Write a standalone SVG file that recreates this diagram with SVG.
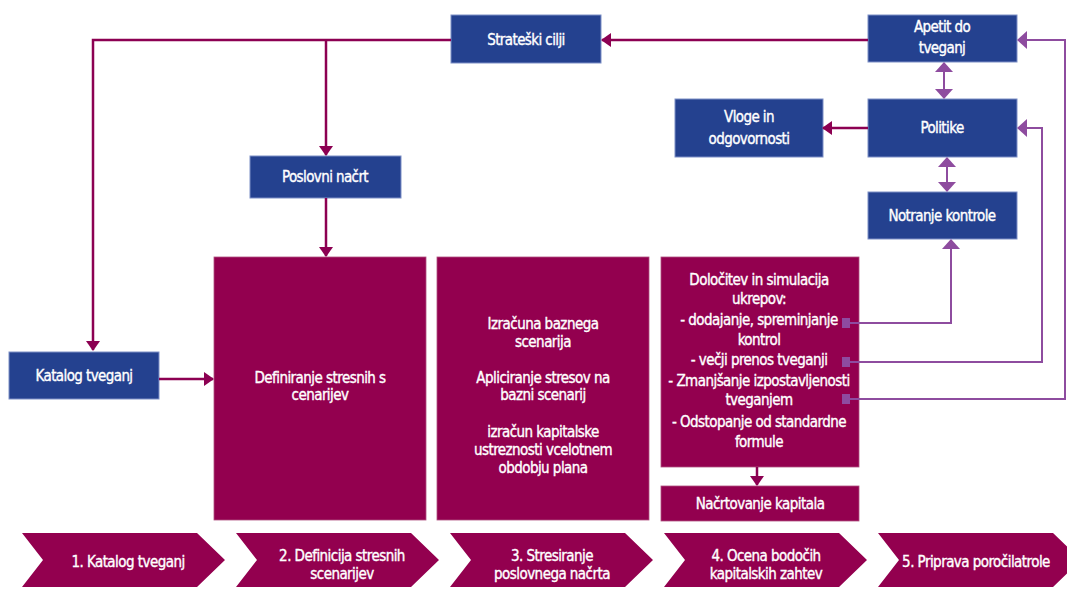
<svg xmlns="http://www.w3.org/2000/svg" width="1067" height="589" viewBox="0 0 1067 589">
  <style>
    .blue { fill: #24418f; stroke: #7d8fc6; stroke-width: 1; }
    .mag { fill: #93004f; stroke: #b0507f; stroke-width: 0.8; }
    .chev { fill: #93004f; }
    .t { font-family: "Liberation Sans Narrow", "DejaVu Sans Condensed", "Liberation Sans", sans-serif; fill: #ffffff; stroke: #ffffff; stroke-width: 0.35px; font-size: 15px; letter-spacing: -0.6px; text-anchor: middle; }
    .ts { font-size: 15px; letter-spacing: -0.55px; }
    .lnm { fill: none; stroke: #8c0052; stroke-width: 2.5; }
    .lnp { fill: none; stroke: #8e4c9f; stroke-width: 2; }
    .sq { fill: #8e4ba0; }
  </style>
  <defs>
    <marker id="arrM" viewBox="0 0 10 14" refX="9" refY="7" markerWidth="10" markerHeight="14" markerUnits="userSpaceOnUse" orient="auto">
      <path d="M0,0 L10,7 L0,14 z" fill="#8c0052"/>
    </marker>
    <marker id="arrP" viewBox="0 0 10 18" refX="9" refY="9" markerWidth="10" markerHeight="18" markerUnits="userSpaceOnUse" orient="auto">
      <path d="M0,0 L10,9 L0,18 z" fill="#8e4c9f"/>
    </marker>
    <marker id="arrPs" viewBox="0 0 10 18" refX="9" refY="9" markerWidth="10" markerHeight="18" markerUnits="userSpaceOnUse" orient="auto-start-reverse">
      <path d="M0,0 L10,9 L0,18 z" fill="#8e4c9f"/>
    </marker>
  </defs>

  <!-- top nodes -->
  <g id="strateski-cilji">
    <rect class="blue" x="451" y="15" width="150" height="48"/>
    <text class="t" x="526" y="45">Strateški cilji</text>
  </g>
  <g id="apetit">
    <rect class="blue" x="868" y="15" width="149" height="47"/>
    <text class="t" x="942" y="32">Apetit do</text>
    <text class="t" x="942" y="53">tveganj</text>
  </g>
  <g id="vloge">
    <rect class="blue" x="675" y="99" width="148" height="58"/>
    <text class="t" x="749" y="122">Vloge in</text>
    <text class="t" x="749" y="144">odgovornosti</text>
  </g>
  <g id="politike">
    <rect class="blue" x="868" y="99" width="149" height="58"/>
    <text class="t" x="942" y="133">Politike</text>
  </g>
  <g id="notranje-kontrole">
    <rect class="blue" x="868" y="192" width="149" height="47"/>
    <text class="t" x="942" y="221">Notranje kontrole</text>
  </g>
  <g id="poslovni-nacrt">
    <rect class="blue" x="250" y="156" width="151" height="42"/>
    <text class="t" x="325" y="182">Poslovni načrt</text>
  </g>
  <g id="katalog-tveganj">
    <rect class="blue" x="9" y="352" width="150" height="47"/>
    <text class="t" x="84" y="381">Katalog tveganj</text>
  </g>

  <!-- process boxes -->
  <g id="definiranje">
    <rect class="mag" x="214" y="257" width="212" height="263"/>
    <text class="t ts" x="320" y="383">Definiranje stresnih s</text>
    <text class="t ts" x="320" y="400">cenarijev</text>
  </g>
  <g id="stresiranje">
    <rect class="mag" x="437" y="257" width="212" height="263"/>
    <text class="t ts" x="543" y="329">Izračuna baznega</text>
    <text class="t ts" x="543" y="347">scenarija</text>
    <text class="t ts" x="543" y="383">Apliciranje stresov na</text>
    <text class="t ts" x="543" y="400">bazni scenarij</text>
    <text class="t ts" x="543" y="437">izračun kapitalske</text>
    <text class="t ts" x="543" y="455">ustreznosti vcelotnem</text>
    <text class="t ts" x="543" y="473">obdobju plana</text>
  </g>
  <g id="dolocitev">
    <rect class="mag" x="661" y="257" width="198" height="210"/>
    <text class="t ts" x="759" y="285">Določitev in simulacija</text>
    <text class="t ts" x="759" y="304">ukrepov:</text>
    <text class="t ts" x="759" y="325">- dodajanje, spreminjanje</text>
    <text class="t ts" x="759" y="345">kontrol</text>
    <text class="t ts" x="759" y="365">- večji prenos tveganji</text>
    <text class="t ts" x="759" y="386">- Zmanjšanje izpostavljenosti</text>
    <text class="t ts" x="759" y="405">tveganjem</text>
    <text class="t ts" x="759" y="427">- Odstopanje od standardne</text>
    <text class="t ts" x="759" y="447">formule</text>
  </g>
  <g id="nacrtovanje-kapitala">
    <rect class="mag" x="661" y="486" width="198" height="35"/>
    <text class="t ts" x="760" y="509">Načrtovanje kapitala</text>
  </g>

  <!-- phase chevrons -->
  <g id="faza-1">
    <polygon class="chev" points="22,533 197,533 225,560 197,587 22,587 43,560"/>
    <text class="t ts" x="128" y="567">1. Katalog tveganj</text>
  </g>
  <g id="faza-2">
    <polygon class="chev" points="236,533 411,533 439,560 411,587 236,587 257,560"/>
    <text class="t ts" x="342" y="561">2. Definicija stresnih</text>
    <text class="t ts" x="342" y="579">scenarijev</text>
  </g>
  <g id="faza-3">
    <polygon class="chev" points="450,533 625,533 653,560 625,587 450,587 471,560"/>
    <text class="t ts" x="552" y="561">3. Stresiranje</text>
    <text class="t ts" x="552" y="579">poslovnega načrta</text>
  </g>
  <g id="faza-4">
    <polygon class="chev" points="664,533 839,533 867,560 839,587 664,587 685,560"/>
    <text class="t ts" x="766" y="561">4. Ocena bodočih</text>
    <text class="t ts" x="766" y="579">kapitalskih zahtev</text>
  </g>
  <g id="faza-5">
    <polygon class="chev" points="878,533 1053,533 1081,560 1053,587 878,587 899,560"/>
    <text class="t ts" x="976" y="567">5. Priprava poročilatrole</text>
  </g>

  <!-- connectors -->
  <g id="connectors">
    <polyline class="lnm" points="451,40 93,40 93,350" marker-end="url(#arrM)"/>
    <line class="lnm" x1="326" y1="40" x2="326" y2="155" marker-end="url(#arrM)"/>
    <line class="lnm" x1="326" y1="198" x2="326" y2="256" marker-end="url(#arrM)"/>
    <line class="lnm" x1="159" y1="379" x2="213" y2="379" marker-end="url(#arrM)"/>
    <line class="lnm" x1="868" y1="40" x2="602" y2="40" marker-end="url(#arrM)"/>
    <line class="lnm" x1="868" y1="128" x2="823" y2="128" marker-end="url(#arrM)"/>
    <line class="lnm" x1="757" y1="467" x2="757" y2="485" marker-end="url(#arrM)"/>
    <line class="lnp" x1="944" y1="63" x2="944" y2="98" marker-start="url(#arrPs)" marker-end="url(#arrPs)"/>
    <line class="lnp" x1="947" y1="158" x2="947" y2="191" marker-start="url(#arrPs)" marker-end="url(#arrPs)"/>
    <polyline class="lnp" points="849,323 951,323 951,240" marker-end="url(#arrP)"/>
    <polyline class="lnp" points="849,362 1042,362 1042,128 1018,128" marker-end="url(#arrP)"/>
    <polyline class="lnp" points="849,399 1065,399 1065,40 1018,40" marker-end="url(#arrP)"/>
    <rect class="sq" x="842" y="318" width="8" height="10"/>
    <rect class="sq" x="842" y="357" width="8" height="10"/>
    <rect class="sq" x="842" y="394" width="8" height="10"/>
  </g>
</svg>
